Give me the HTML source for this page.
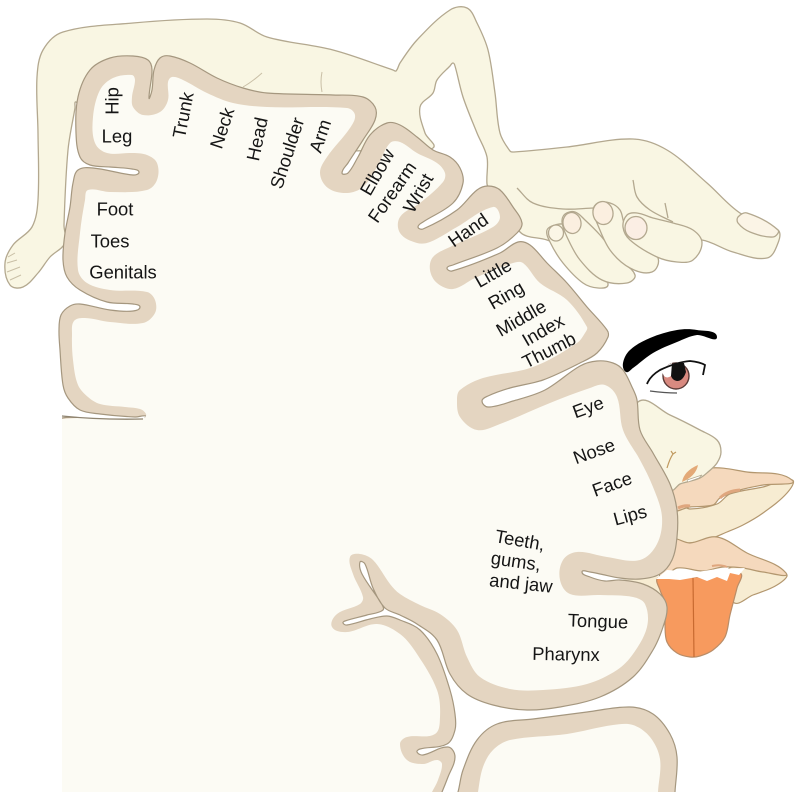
<!DOCTYPE html>
<html><head><meta charset="utf-8">
<style>
html,body{margin:0;padding:0;background:#fff;width:800px;height:797px;overflow:hidden}
svg{display:block;overflow:hidden}
text{font-family:"Liberation Sans",Arial,sans-serif;font-size:18.4px;fill:#151515;text-anchor:middle}
</style></head>
<body>
<svg id="d" xmlns="http://www.w3.org/2000/svg" width="800" height="797" viewBox="0 0 800 797">
<rect width="800" height="797" fill="#fff"/>

<!-- body -->
<polygon class="s" fill="#f9f6e3" stroke="#b3a88f" stroke-width="1.3" points="63,32 133,23 207,19 240,23 267,37 333,50 393,70 396,71 400,63 417,40 450,10 467,8 477,23 488,50 495,93 500,133 510,151 514,152 567,147 633,139 667,150 707,183 740,213 778,230 778,243 767,258 733,252 702,240 660,240 630,250 600,260 570,250 547,240 520,232 500,190 490,188 487,184 487,157 477,133 463,97 455,66 453,63 450,66 437,80 433,93 420,107 425,133 433,148 400,150 100,150 80,110 76,102 75,108 68,150 64,225 65,243 50,257 38,273 23,287 10,285 5,263 13,245 32,227 38,200 38,133 37,77 43,50"/>
<g fill="none" stroke="#c9bfa6" stroke-width="1">
<path d="M8,257L15,253M7,263L17,260M7,272L20,267M10,280L21,275M243,87Q252,82 262,73M322,72Q320,82 322,92"/>
</g>
<!-- fingers -->
<g fill="#f9f6e3" stroke="#b3a88f" stroke-width="1.3">
<polyline class="o" fill="none" points="517,188 533,203 563,209 593,208"/>
<polyline class="o" fill="none" points="633,180 637,197 650,210 673,222"/>
<polyline class="o" fill="none" points="665,203 668,218"/>
<polygon class="s" points="547,230 550,242 563,263 583,283 598,288 608,285 600,270 575,240 565,225 555,225"/>
<polygon class="s" points="562,222 567,237 580,260 602,280 627,283 635,275 620,260 600,235 585,220 575,212 565,214"/>
<polygon class="s" points="593,210 597,223 610,250 630,268 652,272 658,258 640,240 625,225 620,210 610,203 598,203"/>
<polygon class="s" points="623,227 627,215 637,213 653,218 673,223 693,230 702,243 693,260 677,262 657,257 630,240"/>
<ellipse cx="556" cy="233" rx="7.5" ry="8" fill="#fbf6e6"/>
<ellipse cx="572" cy="223" rx="9" ry="10.5" fill="#fbefe0" transform="rotate(-10 572 223)"/>
<ellipse cx="603" cy="213" rx="10" ry="11.5" fill="#fbefe0" transform="rotate(-10 603 213)"/>
<ellipse cx="636" cy="228" rx="11" ry="11.5" fill="#fbeee4"/>
<polygon class="s" points="738,217 747,213 778,230 773,237 750,232 738,223" fill="#fbf4e6"/>
</g>

<!-- lips -->
<g stroke="#b3976f" stroke-width="1.2">
<polygon class="s" fill="#f7ecd2" points="677,505 690,509 717,504 730,494 763,487 792,480 787,493 763,513 743,525 727,532 707,540 687,543 675,540"/>
<polygon class="s" fill="#f5d9bd" points="670,490 688,478 710,468 747,472 792,480 763,485 740,490 720,498 713,505 690,507 670,510"/>
<polygon fill="#f7ecd2" stroke="none" points="615,577 672,576 664,600 640,584"/>
<polygon class="s" fill="#f7ecd2" points="786,574 777,585 753,595 733,602 728,570 745,568"/>
<polygon class="s" fill="#f5d9bd" points="670,540 690,543 717,537 747,553 786,573 763,572 743,568 723,567 703,571 677,568 660,578"/>
</g>
<!-- tongue -->
<polygon class="s" fill="#f79a5e" stroke="#b98d68" stroke-width="1.2" points="658,578 680,578 710,576 740,573 737,588 730,615 725,637 713,650 700,656 690,657 677,653 667,642 665,625 666,605 660,590"/>
<path d="M693,578L694,657" stroke="#c86a30" stroke-width="1.2" fill="none"/>
<polygon fill="#fff" points="656,579 667,570 697,572 717,569 745,568 739,575 730,573 727,581 717,577 707,581 697,577 680,580 669,579"/>
<!-- nose -->
<polygon class="s" fill="#f9f6e3" stroke="#b3a88f" stroke-width="1.3" points="638,402 670,415 700,430 717,440 721,452 717,463 708,472 700,478 687,482 680,484 671,490 655,470 640,440"/>
<path d="M682,482Q684,471 698,465Q696,476 682,482Z" fill="#e3a977"/>
<path d="M687,480L702,475L699,478L688,482Z" fill="#fff" stroke="#b3a88f" stroke-width=".7"/>
<path d="M667,468Q670,458 673,454M673,454L671,451M673,454L676,452" fill="none" stroke="#c09a60" stroke-width="1.2"/>
<g fill="none" stroke="#dfa67e" stroke-width="3"><path d="M720,498Q727,491 740,490"/><path d="M678,508Q684,505 690,506"/><path d="M712,566Q720,564 727,567" stroke-width="2"/></g>

<!-- eye -->
<polygon class="s" fill="#000" points="623,363 630,350 650,338 677,330 697,330 717,337 697,335 677,342 653,353 633,368 626,372"/>
<circle cx="676" cy="376" r="13" fill="#d98a80" stroke="#5a3a36" stroke-width="1.4"/>
<path d="M669,366Q676,361 684,363L686,372Q683,381 677,381Q671,380 670,372Z" fill="#111"/>
<path d="M662,372Q664,366 672,363L671,376Q667,379 664,376Z" fill="#fff"/>
<path d="M647,384Q650,376 660,370Q677,362 690,361Q700,362 705,365L703,375" fill="none" stroke="#111" stroke-width="1.8"/>
<path d="M650,391Q665,393 677,393" fill="none" stroke="#555" stroke-width="1.2"/>

<!-- cortex -->
<polygon class="s" fill="#e4d5c1" stroke="#a5977f" stroke-width="1.2" points="40,790 40,500 45,430 62,418 100,420 143,419 146,416 135,417 100,414 80,410 68,398 63,385 60,350 59,330 61,315 70,306 80,304 110,310 133,311 140,307 133,304 107,302 80,290 67,277 63,260 65,233 70,207 73,183 78,170 93,168 133,175 139,172 132,169 110,167 90,165 80,157 76,133 78,97 90,70 110,58 133,56 148,60 152,70 149,98 152,90 154,70 160,58 170,56 190,63 217,78 243,88 267,93 333,95 363,97 375,107 375,120 363,140 348,163 342,173 348,173 358,157 370,135 387,123 400,125 417,137 433,150 450,157 460,168 463,183 453,203 423,222 418,227 423,229 457,210 477,190 488,186 500,190 513,207 522,223 517,233 497,248 453,265 447,268 452,271 500,253 518,242 530,245 547,263 567,283 587,307 607,330 608,337 597,353 580,363 543,380 510,388 488,396 482,401 488,407 513,401 545,390 580,366 597,361 613,363 623,370 632,387 637,400 640,430 653,453 670,484 677,510 677,537 672,560 660,574 640,579 620,578 600,574 590,572 582,572 590,577 605,581 620,580 643,584 660,594 667,607 663,627 653,650 633,677 600,697 560,707 527,710 493,705 467,694 450,674 437,640 417,624 400,615 385,608 373,588 365,564 360,562 362,574 381,603 383,610 367,615 345,621 343,623 347,625 370,619 387,616 400,620 420,630 437,654 450,690 455,714 455,730 447,744 420,749 417,752 423,755 448,747 455,757 448,777 442,792 440,796 400,796 60,796 41,796"/>
<polygon class="s" fill="#fcfbf4" points="40,790 40,500 45,428 62,419 144,418 146,414 140,409 125,407 100,404 88,397 78,385 73,360 72,335 74,321 85,318 110,322 143,323 155,313 155,300 147,292 110,290 87,283 78,270 80,233 85,200 88,190 110,192 147,190 157,180 157,163 147,155 133,153 107,153 95,143 93,117 100,90 113,78 132,75 135,80 132,97 133,107 143,115 160,112 168,100 168,82 172,77 183,80 207,93 233,103 267,107 347,108 355,115 350,128 327,157 320,173 328,188 347,193 363,187 377,167 390,143 400,142 417,153 437,163 445,173 443,182 420,203 400,217 400,233 417,243 430,242 457,227 493,207 500,217 493,227 450,247 433,257 430,270 437,283 453,289 475,278 513,263 523,263 540,283 567,300 587,327 585,333 577,343 533,367 483,378 460,390 457,400 460,417 477,430 500,424 550,403 590,388 605,385 617,397 623,430 640,460 653,487 662,517 657,544 640,560 607,557 577,552 563,560 560,580 570,594 600,595 633,597 645,604 647,627 633,654 617,670 587,684 543,690 510,689 480,677 467,657 457,630 440,614 420,605 400,594 390,584 373,560 360,554 350,557 353,574 363,597 360,604 337,614 332,627 347,632 377,624 400,634 417,654 437,690 440,717 435,734 407,737 400,744 407,760 423,764 437,760 442,764 438,780 432,792 430,796 400,796 60,796 41,796"/>
<path d="M62,416Q100,420 143,419" fill="none" stroke="#8f8470" stroke-width="1.3"/>
<!-- lower lobe -->
<polygon class="s" fill="#e4d5c1" stroke="#a5977f" stroke-width="1.2" points="456,796 458,792 463,770 477,740 497,724 533,719 587,712 630,707 653,714 670,734 677,757 675,792 675,796 660,796 470,796"/>
<polygon class="s" fill="#fcfbf4" points="478,796 478,792 483,767 493,750 510,740 567,734 613,725 633,725 650,737 660,759 658,792 658,796 645,796 490,796"/>
<rect x="0" y="792" width="800" height="5" fill="#fff"/>
<rect x="0" y="417" width="62" height="380" fill="#fff"/>

<!-- labels -->
<text transform="translate(112,101) rotate(-90)" dy=".35em">Hip</text>
<text transform="translate(117,136)" dy=".35em">Leg</text>
<text transform="translate(183,115) rotate(-79)" dy=".35em">Trunk</text>
<text transform="translate(222,128) rotate(-72)" dy=".35em">Neck</text>
<text transform="translate(257,139) rotate(-78)" dy=".35em">Head</text>
<text transform="translate(287,153) rotate(-72)" dy=".35em">Shoulder</text>
<text transform="translate(320,136) rotate(-72)" dy=".35em">Arm</text>
<text transform="translate(377,172) rotate(-60)" dy=".35em">Elbow</text>
<text transform="translate(392,192) rotate(-55)" dy=".35em">Forearm</text>
<text transform="translate(418,193) rotate(-60)" dy=".35em">Wrist</text>
<text transform="translate(468,230) rotate(-35)" dy=".35em">Hand</text>
<text transform="translate(493,273) rotate(-30)" dy=".35em">Little</text>
<text transform="translate(506,295) rotate(-30)" dy=".35em">Ring</text>
<text transform="translate(521,318) rotate(-30)" dy=".35em">Middle</text>
<text transform="translate(543,330) rotate(-30)" dy=".35em">Index</text>
<text transform="translate(549,350) rotate(-27)" dy=".35em">Thumb</text>
<text transform="translate(115,209)" dy=".35em">Foot</text>
<text transform="translate(110,241)" dy=".35em">Toes</text>
<text transform="translate(123,272)" dy=".35em">Genitals</text>
<text transform="translate(588,407) rotate(-20)" dy=".35em">Eye</text>
<text transform="translate(594,451) rotate(-20)" dy=".35em">Nose</text>
<text transform="translate(612,484) rotate(-20)" dy=".35em">Face</text>
<text transform="translate(630,515) rotate(-15)" dy=".35em">Lips</text>
<text transform="translate(520,540) rotate(10)" dy=".35em">Teeth,</text>
<text transform="translate(516,561) rotate(8)" dy=".35em">gums,</text>
<text transform="translate(521,583) rotate(6)" dy=".35em">and jaw</text>
<text transform="translate(598,621) rotate(2)" dy=".35em">Tongue</text>
<text transform="translate(566,654) rotate(1)" dy=".35em">Pharynx</text>
</svg>
<script>
(function(){
var svg=document.getElementById('d');
function pts(e){return e.getAttribute('points').trim().split(/\s+/).map(function(p){return p.split(',').map(Number)})}
function unit(a,b){var x=b[0]-a[0],y=b[1]-a[1],l=Math.sqrt(x*x+y*y)||1;return [x/l,y/l]}
function smooth(P,closed){
 var n=P.length,d='M'+P[0][0]+','+P[0][1];
 for(var i=0;i<(closed?n:n-1);i++){
  var p0=closed?P[(i-1+n)%n]:P[Math.max(i-1,0)],p1=P[i],p2=P[(i+1)%n],p3=closed?P[(i+2)%n]:P[Math.min(i+2,n-1)];
  var L=Math.sqrt(Math.pow(p2[0]-p1[0],2)+Math.pow(p2[1]-p1[1],2))/3,t1=unit(p0,p2),t2=unit(p1,p3);
  d+='C'+(p1[0]+t1[0]*L).toFixed(1)+','+(p1[1]+t1[1]*L).toFixed(1)+' '+(p2[0]-t2[0]*L).toFixed(1)+','+(p2[1]-t2[1]*L).toFixed(1)+' '+p2[0]+','+p2[1];
 }
 return d+(closed?'Z':'');
}
['s','o'].forEach(function(c){
 var L=svg.querySelectorAll('.'+c);
 for(var i=0;i<L.length;i++){
  var e=L[i],q=document.createElementNS('http://www.w3.org/2000/svg','path');
  for(var a=0;a<e.attributes.length;a++){var t=e.attributes[a];if(t.name!='points'&&t.name!='class')q.setAttribute(t.name,t.value)}
  q.setAttribute('d',smooth(pts(e),c=='s'));
  q.setAttribute('stroke-linejoin','round');
  e.parentNode.replaceChild(q,e);
 }
});
})();
</script>
</body></html>
